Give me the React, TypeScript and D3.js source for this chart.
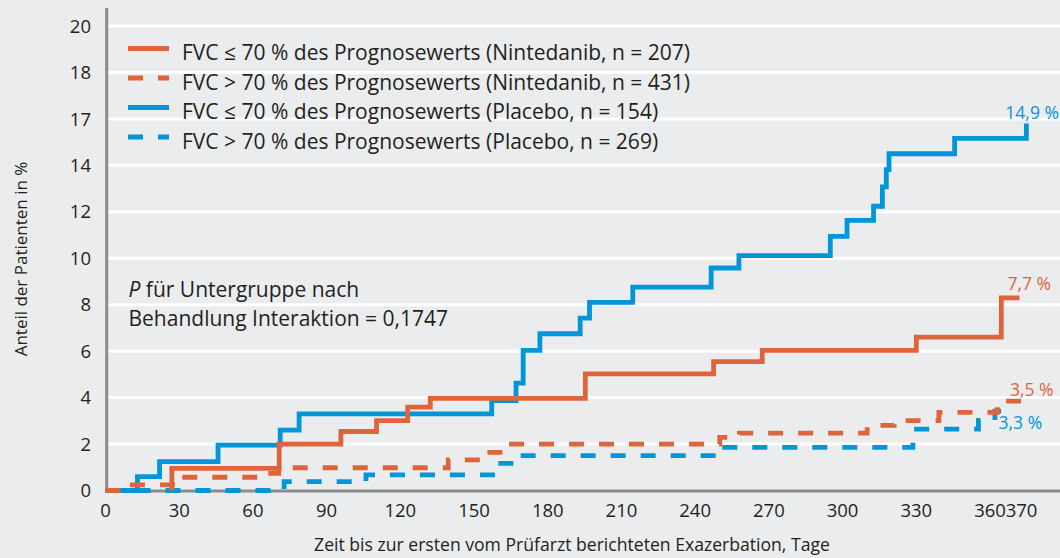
import * as d3 from "d3";

// Kaplan-Meier style cumulative exacerbation curves (days, percent)
const ninLowDays = [27, 27, 70.7, 95.8, 110.3, 123, 132.2, 195.3, 247.5, 267.3, 330, 364.6, 372];
const ninLowPct = [0, 0.95, 2.0, 2.54, 3.01, 3.59, 3.97, 5.02, 5.55, 6.03, 6.6, 8.29, 8.29];

const ninHighDays = [0, 9.6, 28.3, 63.2, 70.5, 139.5, 155, 162.5, 250, 258, 310, 321, 339.2, 363, 373];
const ninHighPct = [0, 0.24, 0.57, 0.74, 0.98, 1.32, 1.64, 2.0, 2.29, 2.47, 2.8, 3.01, 3.36, 3.85, 3.85];

const plaLowDays = [0, 13, 22, 45.8, 71.1, 78.8, 157.2, 167.1, 170, 176.8, 193.2, 197, 214.6, 246.5, 257.8, 295, 301.8, 312.6, 316.2, 317.8, 318.9, 345.6, 374.8];
const plaLowPct = [0, 0.6, 1.24, 1.95, 2.6, 3.3, 3.87, 4.62, 6.03, 6.75, 7.42, 8.1, 8.76, 9.58, 10.11, 10.94, 11.63, 12.24, 13.07, 13.82, 14.5, 15.16, 15.8];

const plaHighDays = [0, 72.7, 106, 159.6, 165, 250.6, 328.6, 355.3, 362, 369.6];
const plaHighPct = [0, 0.38, 0.67, 1.17, 1.5, 1.86, 2.64, 3.02, 3.42, 3.42];

const legendLabels = [
  "FVC ≤ 70 % des Prognosewerts (Nintedanib, n = 207)",
  "FVC > 70 % des Prognosewerts (Nintedanib, n = 431)",
  "FVC ≤ 70 % des Prognosewerts (Placebo, n = 154)",
  "FVC > 70 % des Prognosewerts (Placebo, n = 269)",
];
const endLabels = ["7,7 %", "3,5 %", "14,9 %", "3,3 %"];

const yTicks = [0, 2, 4, 6, 8, 10, 12, 14, 16, 18, 20];
const yTickLabels = ["0", "2", "4", "6", "8", "10", "12", "14", "17", "18", "20"];
const xTicks = [0, 30, 60, 90, 120, 150, 180, 210, 240, 270, 300, 330, 360, 370];

const ORANGE = "#e0643b";
const BLUE = "#0096d8";
const TEXT = "#231f20";
const FONT = "'Open Sans', Lato, sans-serif";

const series = [
  { days: ninLowDays, pct: ninLowPct, color: ORANGE, dashed: false, dx: -12, dy: -7.5 },
  { days: ninHighDays, pct: ninHighPct, color: ORANGE, dashed: true, dx: -12, dy: -5 },
  { days: plaLowDays, pct: plaLowPct, color: BLUE, dashed: false, dx: -21, dy: -4.5 },
  { days: plaHighDays, pct: plaHighPct, color: BLUE, dashed: true, dx: -15, dy: 18 },
];
// placebo below, nintedanib on top
const drawOrder = [3, 2, 1, 0];

const App = () => {
  const width = 1060;
  const height = 558;

  const x = d3.scaleLinear().domain([0, 360]).range([105.5, 990]);
  const y = d3.scaleLinear().domain([0, 20]).range([490.5, 26]);

  const line = d3
    .line<[number, number]>()
    .x((d) => x(d[0]))
    .y((d) => y(d[1]))
    .curve(d3.curveStepAfter);

  return (
    <svg
      width={width}
      height={height}
      style={{ position: "absolute", left: 0, top: 0, display: "block" }}
      fontFamily={FONT}
    >
      <rect width={width} height={height} fill="#ebeced" />

      {/* grid */}
      {yTicks.filter((t) => t > 0).map((t) => (
        <line key={t} x1={108} x2={width} y1={y(t)} y2={y(t)} stroke="#fff" strokeWidth={3} />
      ))}

      {/* axes */}
      <line x1={106.7} x2={106.7} y1={8} y2={492} stroke="#8b8b8b" strokeWidth={3} />
      <line x1={105.2} x2={width} y1={491} y2={491} stroke="#8b8b8b" strokeWidth={3} />

      {yTicks.map((t, i) => (
        <text key={t} x={91} y={y(t)} dy="0.36em" textAnchor="end" fontSize={18.5} fill={TEXT}>
          {yTickLabels[i]}
        </text>
      ))}
      {xTicks.map((t) => (
        <text
          key={t}
          x={x(t) + (t === 370 ? 7 : 0)}
          y={517}
          textAnchor="middle"
          fontSize={18.5}
          fill={TEXT}
        >
          {t}
        </text>
      ))}

      <text x={572} y={551} textAnchor="middle" fontSize={17.6} fill={TEXT}>
        Zeit bis zur ersten vom Prüfarzt berichteten Exazerbation, Tage
      </text>
      <text
        transform="translate(27,259) rotate(-90)"
        textAnchor="middle"
        fontSize={17}
        fill={TEXT}
      >
        Anteil der Patienten in %
      </text>

      {/* curves */}
      {drawOrder.map((i) => {
        const s = series[i];
        const pts = s.days.map((d, k) => [d, s.pct[k]] as [number, number]);
        return (
          <path
            key={i}
            d={line(pts) || ""}
            fill="none"
            stroke={s.color}
            strokeWidth={4.8}
            strokeDasharray={s.dashed ? "15,15" : undefined}
          />
        );
      })}

      {/* end labels */}
      {series.map((s, i) => {
        const n = s.days.length - 1;
        return (
          <text
            key={i}
            x={x(s.days[n]) + s.dx}
            y={y(s.pct[n]) + s.dy}
            fontSize={17.5}
            fill={s.color}
          >
            {endLabels[i]}
          </text>
        );
      })}

      {/* legend */}
      {series.map((s, i) => (
        <g key={i} transform={`translate(0,${60 + i * 29.5})`}>
          <line
            x1={128}
            x2={169}
            y1={-11.5}
            y2={-11.5}
            stroke={s.color}
            strokeWidth={5}
            strokeDasharray={s.dashed ? "15,15" : undefined}
          />
          <text x={182} y={0} fontSize={21} fill={TEXT}>
            {legendLabels[i]}
          </text>
        </g>
      ))}

      {/* interaction note */}
      <text x={128.5} y={297} fontSize={21} fill={TEXT}>
        <tspan fontStyle="italic">P</tspan> für Untergruppe nach
      </text>
      <text x={128.5} y={326} fontSize={21} fill={TEXT}>
        Behandlung Interaktion = 0,1747
      </text>
    </svg>
  );
};

export default App;
